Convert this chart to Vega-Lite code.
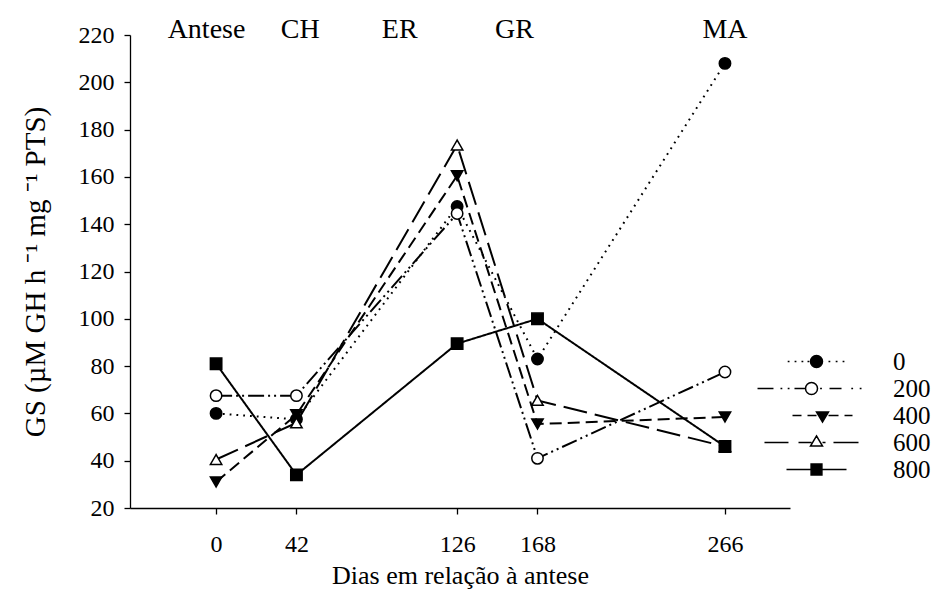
{
  "$schema": "https://vega.github.io/schema/vega-lite/v6.json",
  "width": 660,
  "height": 473,
  "autosize": {"type": "none"},
  "padding": {"left": 130, "top": 35, "right": 141, "bottom": 82},
  "background": "white",
  "config": {
    "view": {"stroke": null},
    "font": "Liberation Serif",
    "axis": {
      "grid": false,
      "domainColor": "black",
      "domainWidth": 1.3,
      "tickColor": "black",
      "tickWidth": 1.3,
      "tickSize": 6,
      "labelFont": "Liberation Serif",
      "labelFontSize": 24,
      "labelColor": "black",
      "titleFont": "Liberation Serif",
      "titleFontSize": 26,
      "titleFontWeight": "normal",
      "titleColor": "black"
    },
    "legend": {
      "labelFont": "Liberation Serif",
      "labelFontSize": 25,
      "labelColor": "black"
    },
    "text": {"font": "Liberation Serif"}
  },
  "datasets": {
    "gs": [
      {"day": 0, "series": "0", "gs": 60},
      {"day": 42, "series": "0", "gs": 57.5},
      {"day": 126, "series": "0", "gs": 147.5},
      {"day": 168, "series": "0", "gs": 83},
      {"day": 266, "series": "0", "gs": 208},
      {"day": 0, "series": "200", "gs": 67.5},
      {"day": 42, "series": "200", "gs": 67.5},
      {"day": 126, "series": "200", "gs": 144.5},
      {"day": 168, "series": "200", "gs": 41},
      {"day": 266, "series": "200", "gs": 77.5},
      {"day": 0, "series": "400", "gs": 31},
      {"day": 42, "series": "400", "gs": 59.5},
      {"day": 126, "series": "400", "gs": 160.5},
      {"day": 168, "series": "400", "gs": 55.5},
      {"day": 266, "series": "400", "gs": 58.5},
      {"day": 0, "series": "600", "gs": 40.5},
      {"day": 42, "series": "600", "gs": 56},
      {"day": 126, "series": "600", "gs": 173.5},
      {"day": 168, "series": "600", "gs": 65.5},
      {"day": 266, "series": "600", "gs": 46},
      {"day": 0, "series": "800", "gs": 81},
      {"day": 42, "series": "800", "gs": 34},
      {"day": 126, "series": "800", "gs": 89.5},
      {"day": 168, "series": "800", "gs": 100},
      {"day": 266, "series": "800", "gs": 46}
    ],
    "stages": [
      {"stage": "Antese", "day": -5},
      {"stage": "CH", "day": 44},
      {"stage": "ER", "day": 96},
      {"stage": "GR", "day": 156},
      {"stage": "MA", "day": 266}
    ]
  },
  "resolve": {"scale": {"shape": "independent", "fill": "independent", "stroke": "independent", "strokeDash": "independent"}},
  "layer": [
    {
      "data": {"name": "gs"},
      "mark": {"type": "line", "stroke": "black", "strokeWidth": 2},
      "encoding": {
        "x": {
          "field": "day",
          "type": "quantitative",
          "title": "Dias em relação à antese",
          "scale": {"domain": [-45, 300], "nice": false, "zero": false},
          "axis": {"values": [0, 42, 126, 168, 266], "labelPadding": 18, "titlePadding": 6}
        },
        "y": {
          "field": "gs",
          "type": "quantitative",
          "title": "GS (µM GH h ⁻¹ mg ⁻¹ PTS)",
          "scale": {"domain": [20, 220], "nice": false, "zero": false},
          "axis": {"values": [20, 40, 60, 80, 100, 120, 140, 160, 180, 200, 220], "labelPadding": 10, "titlePadding": 28, "titleFontSize": 29}
        },
        "strokeDash": {
          "field": "series",
          "type": "nominal",
          "scale": {
            "domain": ["0", "200", "400", "600", "800"],
            "range": [[1.8, 5], [16, 4, 2, 4, 2, 4], [12, 6], [24, 8], [1, 0]]
          },
          "legend": null
        }
      }
    },
    {
      "data": {"name": "gs"},
      "mark": {"type": "point", "stroke": "black", "strokeWidth": 1.5, "size": 130, "opacity": 1},
      "encoding": {
        "x": {"field": "day", "type": "quantitative"},
        "y": {"field": "gs", "type": "quantitative"},
        "shape": {
          "field": "series",
          "type": "nominal",
          "scale": {
            "domain": ["0", "200", "400", "600", "800"],
            "range": ["circle", "circle", "triangle-down", "triangle-up", "square"]
          },
          "legend": null
        },
        "fill": {
          "field": "series",
          "type": "nominal",
          "scale": {
            "domain": ["0", "200", "400", "600", "800"],
            "range": ["black", "white", "black", "white", "black"]
          },
          "legend": null
        }
      }
    },
    {
      "data": {"name": "gs"},
      "transform": [{"filter": "datum.gs > 9999"}],
      "mark": {"type": "point", "strokeWidth": 1.5, "size": 144, "opacity": 1},
      "encoding": {
        "x": {"field": "day", "type": "quantitative"},
        "y": {"field": "gs", "type": "quantitative"},
        "shape": {
          "field": "series",
          "type": "nominal",
          "scale": {
            "domain": ["0", "200", "400", "600", "800"],
            "range": [
              "M-4.8,0H-4.5M-3.65,0H-3.35M-2.5,0H-2.2M-1.5,0H-1.2M2,0H2.3M3.2,0H3.5M4.35,0H4.65M-1,0A1,1 0 1,0 1,0A1,1 0 1,0 -1,0Z",
              "M-9.83,0H-7.17M-6,0H-5.7M-4.8,0H-4.5M-3.67,0H-1.83M0.6,0H0.9M2.17,0H4.17M5.8,0H6.1M7.2,0H7.5M-1.83,0A1,1 0 1,0 0.17,0A1,1 0 1,0 -1.83,0Z",
              "M-4,0H-2.5M-1.5,0H0M2,0H3.67M4.67,0H6M0,-0.6L2,-0.6L1,1.1Z",
              "M-8.67,0H-4.67M-3,0H-0.83M1,0H1.5M2.83,0H7M0,-1.1L1,0.6L-1,0.6Z",
              "M-5,0H5M-0.9,-0.9H0.9V0.9H-0.9Z"
            ]
          },
          "legend": {
            "orient": "none",
            "legendX": 674,
            "legendY": 314,
            "title": null,
            "labelOffset": 64,
            "rowPadding": 1,
            "padding": 0,
            "symbolSize": 144,
            "symbolStrokeWidth": 1.5
          }
        },
        "fill": {
          "field": "series",
          "type": "nominal",
          "scale": {
            "domain": ["0", "200", "400", "600", "800"],
            "range": ["black", "white", "black", "white", "black"]
          }
        },
        "stroke": {
          "field": "series",
          "type": "nominal",
          "scale": {
            "domain": ["0", "200", "400", "600", "800"],
            "range": ["black", "black", "black", "black", "black"]
          }
        }
      }
    },
    {
      "data": {"name": "stages"},
      "mark": {"type": "text", "fontSize": 28, "baseline": "middle", "align": "center", "fill": "black", "clip": false},
      "encoding": {
        "x": {"field": "day", "type": "quantitative"},
        "y": {"datum": 222},
        "text": {"field": "stage"}
      }
    }
  ]
}
